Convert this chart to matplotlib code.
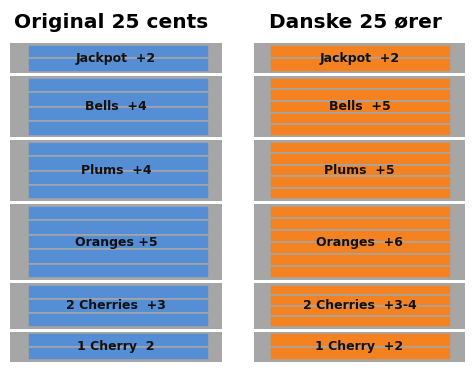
import matplotlib.pyplot as plt

# slot machine payout blocks, top to bottom
categories = ['Jackpot', 'Bells', 'Plums', 'Oranges', '2 Cherries', '1 Cherry']
orig_stripes = [2, 4, 4, 5, 3, 2]
dansk_stripes = [2, 5, 5, 6, 4, 2]
orig_labels = ['Jackpot  +2', 'Bells  +4', 'Plums  +4', 'Oranges +5', '2 Cherries  +3', '1 Cherry  2']
dansk_labels = ['Jackpot  +2', 'Bells  +5', 'Plums  +5', 'Oranges  +6', '2 Cherries  +3-4', '1 Cherry  +2']
titles = ['Original 25 cents', 'Danske 25 ører']

GRAY = '#A6A6A6'
BLUE = '#558ED5'
ORANGE = '#F58220'

fig = plt.figure(figsize=(4.75, 3.7), dpi=100)
ax = fig.add_axes([0, 0, 1, 1])
unit = 15.2  # pixels per stripe unit
ax.set_xlim(0, 475)
ax.set_ylim((370 - 43) / unit, -43 / unit)
ax.axis('off')

gap = 3 / unit
pad = 0.1

# block height comes from the original column
tops = []
y = 0
for h in orig_stripes:
    tops.append(y)
    y += h + gap

columns = [
    (116, 212, 118.5, orig_stripes, orig_labels, BLUE, titles[0], 111),
    (359.5, 211, 360.5, dansk_stripes, dansk_labels, ORANGE, titles[1], 355),
]

for gx, gw, cx, stripes, labels, color, title, tx in columns:
    ax.bar(gx, orig_stripes, width=gw, bottom=tops, color=GRAY, linewidth=0)
    for top, h, n, lab in zip(tops, orig_stripes, stripes, labels):
        sh = (h - 2 * pad) / n
        bottoms = [top + pad + k * sh for k in range(n)]
        ax.bar(cx, sh, width=181, bottom=bottoms, color=color,
               edgecolor=GRAY, linewidth=1.1)
        ax.text(gx, top + h / 2, lab, ha='center', va='center',
                fontsize=9, fontweight='bold', color='#111111')
    ax.text(tx, -43 / unit + 22 / unit, title, ha='center', va='center',
            fontsize=14.5, fontweight='bold', color='black')

fig.savefig('out.png', dpi=100)
